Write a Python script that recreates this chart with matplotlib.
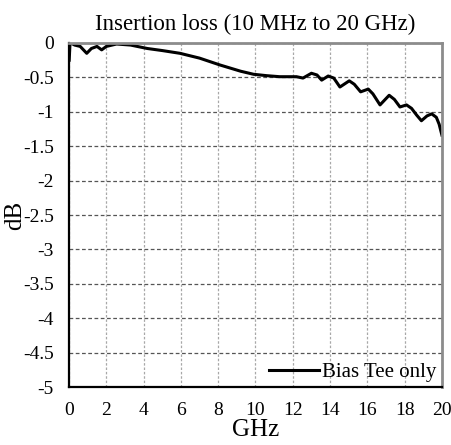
import numpy as np
import matplotlib.pyplot as plt

# datos
freq_ghz = [0.01, 0.05, 0.1, 0.3, 0.6, 0.95, 1.2, 1.5, 1.75, 2.0, 2.55, 3.3,
            4.2, 5.0, 5.95, 7.0, 8.1, 9.2, 9.9, 10.6, 11.3, 12.2, 12.55, 13.0,
            13.3, 13.55, 13.9, 14.2, 14.53, 15.03, 15.3, 15.64, 16.05, 16.3,
            16.68, 17.17, 17.45, 17.75, 18.1, 18.37, 18.65, 18.9, 19.2, 19.45,
            19.7, 19.85, 20.0]
loss_db = [-0.25, -0.02, 0.0, -0.03, -0.05, -0.15, -0.08, -0.05, -0.1, -0.05,
           -0.015, -0.03, -0.08, -0.11, -0.15, -0.22, -0.32, -0.41, -0.455,
           -0.475, -0.49, -0.49, -0.51, -0.44, -0.465, -0.54, -0.48, -0.51,
           -0.64, -0.55, -0.6, -0.71, -0.67, -0.74, -0.9, -0.76, -0.82, -0.93,
           -0.9, -0.95, -1.05, -1.13, -1.06, -1.03, -1.08, -1.18, -1.34]

x_ticks = np.arange(0, 21, 2)
y_ticks = np.arange(-5, 0.01, 0.5)
y_labels = ['-5', '-4.5', '-4', '-3.5', '-3', '-2.5', '-2', '-1.5', '-1', '-0.5', '0']

plt.rcParams['font.family'] = ['Liberation Serif', 'DejaVu Serif']

fig = plt.figure(figsize=(4.52, 4.45), dpi=100)
ax = fig.add_axes([0.1527, 0.1303, 0.825, 0.7731])

ax.plot(freq_ghz, loss_db, color='black', lw=2.2, label='Bias Tee only')

ax.set_xlim(0, 20)
ax.set_ylim(-5, 0)
ax.set_xticks(x_ticks)
ax.set_yticks(y_ticks)
ax.set_yticklabels(y_labels)
ax.tick_params(length=0, labelsize=14)
ax.tick_params(axis='x', pad=11)
ax.tick_params(axis='y', pad=11)

# rejilla
ax.xaxis.grid(True, color='#a8a8a8', ls=(0, (2, 1.5)), lw=0.9)
ax.yaxis.grid(True, color='#555555', ls=(0, (3, 2)), lw=0.9)

for s in ['left', 'bottom']:
    ax.spines[s].set_color('black')
    ax.spines[s].set_linewidth(1.6)
for s in ['top', 'right']:
    ax.spines[s].set_color('#8c8c8c')
    ax.spines[s].set_linewidth(2.0)

ax.set_title('Insertion loss (10 MHz to 20 GHz)', fontsize=16.5, pad=9)
ax.set_xlabel('GHz', fontsize=18, labelpad=0)
ax.set_ylabel('dB', fontsize=18, labelpad=-2)

ax.legend(loc='lower right', frameon=False, fontsize=15, handlelength=2.4,
          handletextpad=0.15, borderaxespad=0.05, borderpad=0.2)

fig.savefig('out.png', dpi=100)
